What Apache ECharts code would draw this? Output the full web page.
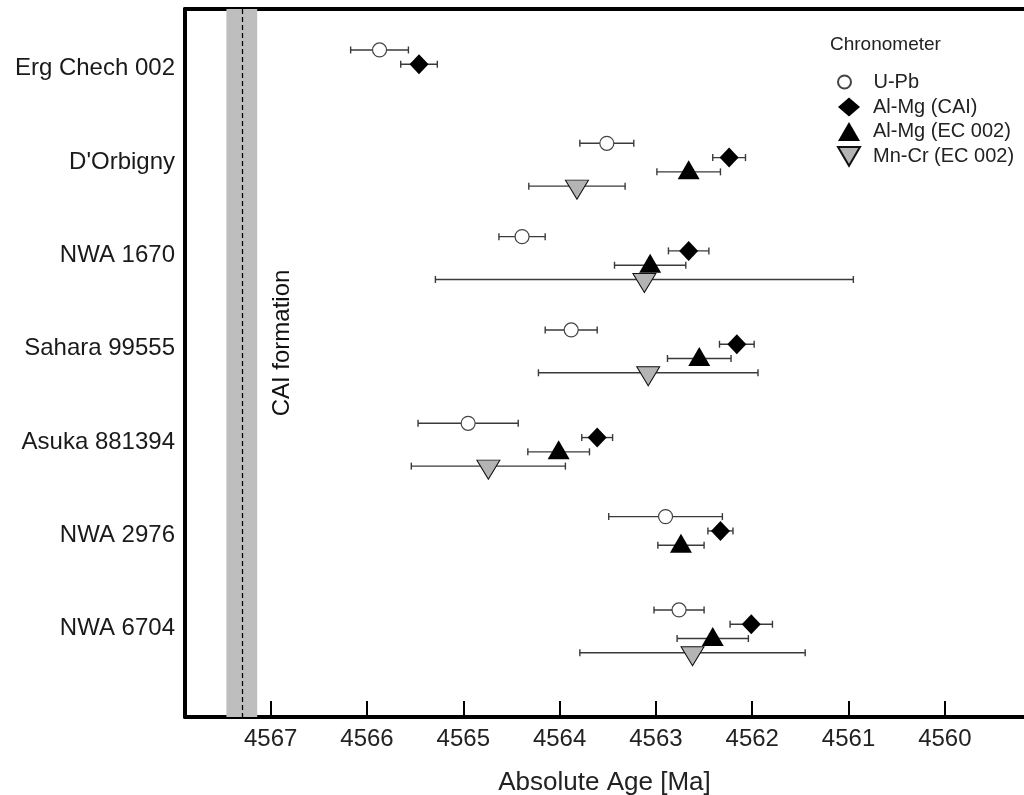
<!DOCTYPE html>
<html>
<head>
<meta charset="utf-8">
<script src="https://cdn.jsdelivr.net/npm/echarts@6/dist/echarts.min.js"></script>
<style>
html,body{margin:0;padding:0;background:#fff;}
#c{width:1024px;height:795px;}
</style>
</head>
<body>
<div id="c"></div>
<script>
// ---------------- data ----------------
const samples = ['Erg Chech 002', "D'Orbigny", 'NWA 1670', 'Sahara 99555', 'Asuka 881394', 'NWA 2976', 'NWA 6704'];

const uPbAge      = [4565.87, 4563.51, 4564.39, 4563.88, 4564.95, 4562.90, 4562.76];
const uPbErr      = [0.30, 0.28, 0.24, 0.27, 0.52, 0.59, 0.26];

const alMgCaiAge  = [4565.46, 4562.24, 4562.66, 4562.16, 4563.61, 4562.33, 4562.01];
const alMgCaiErr  = [0.19, 0.17, 0.21, 0.18, 0.16, 0.13, 0.22];

const alMgEcAge   = [null, 4562.66, 4563.06, 4562.55, 4564.01, 4562.74, 4562.41];
const alMgEcErr   = [null, 0.33, 0.37, 0.33, 0.32, 0.24, 0.37];

const mnCrAge     = [null, 4563.82, 4563.12, 4563.08, 4564.74, null, 4562.62];
const mnCrErr     = [null, 0.50, 2.17, 1.14, 0.80, null, 1.17];

const caiAge = 4567.30;
const caiErr = 0.16;

const xTicks = [4567, 4566, 4565, 4564, 4563, 4562, 4561, 4560];

// ---------------- layout / style ----------------
const FONT = "'Liberation Sans', Arial, sans-serif";
const LABEL_OFF = 0.2;
const X_MIN = 4559.178, X_MAX = 4567.89;
const Y_MIN = -0.439, Y_MAX = 7.147;

const chrono = [
  {name:'U-Pb', ages:uPbAge, errs:uPbErr, off:0, symbol:'circle', size:14,
   fill:'#ffffff', border:'#444444', bw:1.2, symOff:[0,0]},
  {name:'Al-Mg (CAI)', ages:alMgCaiAge, errs:alMgCaiErr, off:0.153, symbol:'diamond', size:[19,20],
   fill:'#000000', border:'#000000', bw:0, symOff:[0,0]},
  {name:'Al-Mg (EC 002)', ages:alMgEcAge, errs:alMgEcErr, off:0.306, symbol:'triangle', size:[22,19],
   fill:'#000000', border:'#000000', bw:0, symOff:[0,-2]},
  {name:'Mn-Cr (EC 002)', ages:mnCrAge, errs:mnCrErr, off:0.459, symbol:'path://M0,0L20,0L10,17Z', size:[23,19],
   fill:'#b4b4b4', border:'#111111', bw:1, symOff:[0,3.5]}
];

function pts(ages, off){
  const out = [];
  ages.forEach((a,i)=>{ if(a!=null) out.push([a, i+off]); });
  return out;
}
function bars(ages, errs, off){
  const out = [];
  ages.forEach((a,i)=>{ if(a!=null) out.push([a-errs[i], a+errs[i], i+off]); });
  return out;
}
function renderBar(params, api){
  const y = api.value(2);
  const p1 = api.coord([api.value(0), y]);
  const p2 = api.coord([api.value(1), y]);
  const h = 3.5;
  const st = {stroke:'#3a3a3a', lineWidth:1.4};
  return {type:'group', children:[
    {type:'line', shape:{x1:p1[0], y1:p1[1], x2:p2[0], y2:p2[1]}, style:st},
    {type:'line', shape:{x1:p1[0], y1:p1[1]-h, x2:p1[0], y2:p1[1]+h}, style:st},
    {type:'line', shape:{x1:p2[0], y1:p2[1]-h, x2:p2[0], y2:p2[1]+h}, style:st}
  ]};
}

const series = [];
// CAI formation band + line
series.push({
  name:'CAI', type:'scatter', data:[], silent:true, z:1,
  markArea:{silent:true, itemStyle:{color:'#bebebe'},
    data:[[{xAxis:caiAge+caiErr},{xAxis:caiAge-caiErr}]]},
  markLine:{silent:true, symbol:['none','none'], label:{show:false},
    lineStyle:{type:[5,3], color:'#000', width:1.3},
    data:[{xAxis:caiAge}]}
});
chrono.forEach(c=>{
  series.push({
    name:c.name+' err', type:'custom', renderItem:renderBar, z:2, silent:true,
    encode:{x:[0,1], y:2},
    data:bars(c.ages, c.errs, c.off)
  });
});
chrono.forEach(c=>{
  series.push({
    name:c.name, type:'scatter', z:3, silent:true,
    symbol:c.symbol, symbolSize:c.size, symbolOffset:c.symOff,
    itemStyle:{color:c.fill, borderColor:c.border, borderWidth:c.bw, opacity:1},
    data:pts(c.ages, c.off)
  });
});

const legendText = {fontSize:20, fontFamily:FONT, color:'#222', lineHeight:20, padding:[0,0,0,8]};
const legendText0 = {fontSize:20, fontFamily:FONT, color:'#222', lineHeight:20, padding:[0,0,0,13]};

const chart = echarts.init(document.getElementById('c'));
chart.setOption({
  animation:false,
  backgroundColor:'#ffffff',
  grid:{left:185, top:9, right:0, bottom:78, show:false, containLabel:false, outerBoundsMode:'none'},
  xAxis:[{
    type:'value', inverse:true, min:X_MIN, max:X_MAX, position:'bottom',
    axisLine:{show:true, onZero:false, lineStyle:{color:'#000', width:4}},
    splitLine:{show:false},
    axisTick:{show:true, inside:true, length:16, lineStyle:{color:'#000', width:2}, customValues:xTicks},
    axisLabel:{fontSize:24, fontFamily:FONT, color:'#222', margin:10, customValues:xTicks,
      formatter:function(v){ return String(Math.round(v)); }},
    name:'Absolute Age [Ma]', nameLocation:'middle', nameGap:53,
    nameTextStyle:{fontSize:26, fontFamily:FONT, color:'#222'}
  },{
    type:'value', inverse:true, min:X_MIN, max:X_MAX, position:'top',
    axisLine:{show:true, onZero:false, lineStyle:{color:'#000', width:4}},
    splitLine:{show:false}, axisTick:{show:false}, axisLabel:{show:false}
  }],
  yAxis:{
    type:'value', inverse:true, min:Y_MIN, max:Y_MAX,
    axisLine:{show:true, onZero:false, lineStyle:{color:'#000', width:4}},
    splitLine:{show:false}, axisTick:{show:false},
    axisLabel:{fontSize:24, fontFamily:FONT, color:'#1a1a1a', margin:10,
      customValues:samples.map((s,i)=>i+LABEL_OFF),
      formatter:function(v){ return samples[Math.round(v-LABEL_OFF)] || ''; }}
  },
  legend:[{
    data:[chrono[0].name], orient:'vertical', left:832, top:67,
    itemWidth:22, itemHeight:13, selectedMode:false, textStyle:legendText0
  },{
    data:chrono.slice(1).map(c=>c.name), orient:'vertical', left:832, top:92,
    itemWidth:22, itemHeight:19, itemGap:4.5, selectedMode:false, textStyle:legendText
  }],
  graphic:[
    {type:'text', left:830, top:35, style:{text:'Chronometer', fontSize:19, fontFamily:FONT, fill:'#222'}},
    {type:'text', x:282, y:343, rotation:Math.PI/2,
     style:{text:'CAI formation', fontSize:24, fontFamily:FONT, fill:'#111', align:'center', verticalAlign:'middle'}}
  ],
  series:series
});
</script>
</body>
</html>
